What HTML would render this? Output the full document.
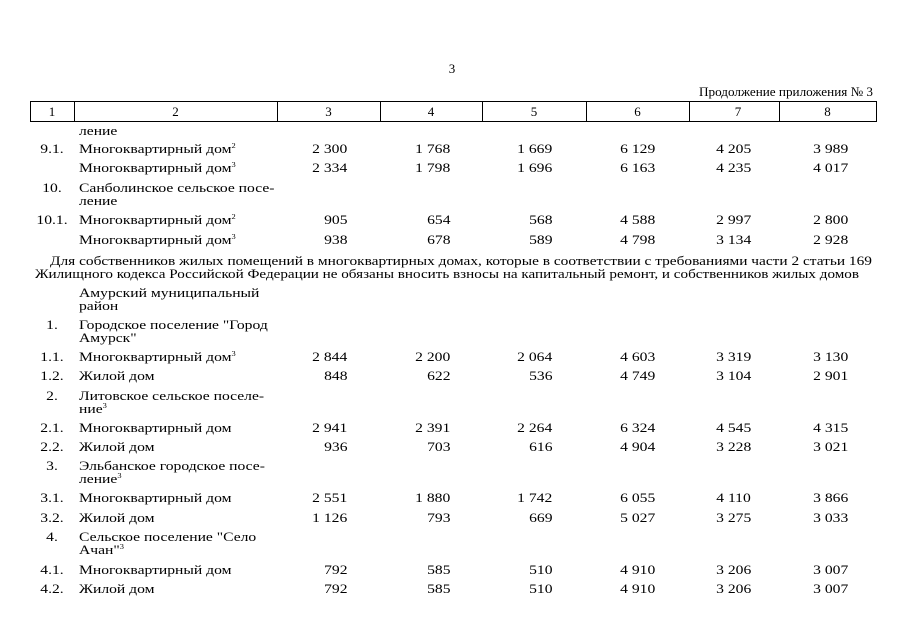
<!DOCTYPE html>
<html>
<head>
<meta charset="utf-8">
<style>
  html, body { margin:0; padding:0; background:#fff; }
  body { width:905px; height:640px; position:relative; overflow:hidden; color:#000;
         font-family:"Liberation Serif","Noto Serif CJK SC",serif; }
  .r { position:absolute; left:0; width:905px; height:13px; }
  .r > span { position:absolute; top:0; font-size:13px; line-height:13px; white-space:nowrap; transform:scaleX(1.2); }
  .n { left:30px; width:44px; text-align:center; transform-origin:center center; }
  .l { left:79px; transform-origin:left center; }
  .c3 { right:558px; transform-origin:right center; }
  .c4 { right:455px; transform-origin:right center; }
  .c5 { right:353px; transform-origin:right center; }
  .c6 { right:250px; transform-origin:right center; }
  .c7 { right:154px; transform-origin:right center; }
  .c8 { right:57px;  transform-origin:right center; }
  .s { font-size:7px; position:relative; top:-5px; }
  .hb { position:absolute; left:30px; top:101px; width:847px; height:21px; box-sizing:border-box; border:1px solid #000; }
  .v { position:absolute; top:101px; width:1px; height:21px; background:#000; }
  .h { position:absolute; top:104.5px; font-size:13px; line-height:13px; text-align:center; }
  .free { position:absolute; font-size:13px; line-height:13px; white-space:nowrap; transform-origin:left center; }
</style>
</head>
<body>

<div class="free" style="left:446px;top:61.5px;width:12px;text-align:center;">3</div>
<div class="free" id="pr" style="left:699px;top:84.5px;">Продолжение приложения № 3</div>

<!-- header -->
<div class="hb"></div>
<div class="v" style="left:74px"></div>
<div class="v" style="left:277px"></div>
<div class="v" style="left:380px"></div>
<div class="v" style="left:482px"></div>
<div class="v" style="left:586px"></div>
<div class="v" style="left:689px"></div>
<div class="v" style="left:779px"></div>
<div class="h" style="left:30px;width:44px">1</div>
<div class="h" style="left:74px;width:203px">2</div>
<div class="h" style="left:277px;width:103px">3</div>
<div class="h" style="left:380px;width:102px">4</div>
<div class="h" style="left:482px;width:104px">5</div>
<div class="h" style="left:586px;width:103px">6</div>
<div class="h" style="left:689px;width:98px">7</div>
<div class="h" style="left:779px;width:97px">8</div>

<div class="r" style="top:123.5px"><span class="l">ление</span></div>

<div class="r" style="top:141.5px"><span class="n">9.1.</span><span class="l">Многоквартирный дом<span class="s">2</span></span>
<span class="c3">2 300</span><span class="c4">1 768</span><span class="c5">1 669</span><span class="c6">6 129</span><span class="c7">4 205</span><span class="c8">3 989</span></div>

<div class="r" style="top:160.5px"><span class="l">Многоквартирный дом<span class="s">3</span></span>
<span class="c3">2 334</span><span class="c4">1 798</span><span class="c5">1 696</span><span class="c6">6 163</span><span class="c7">4 235</span><span class="c8">4 017</span></div>

<div class="r" style="top:180.5px"><span class="n">10.</span><span class="l">Санболинское сельское посе-</span></div>
<div class="r" style="top:193.5px"><span class="l">ление</span></div>

<div class="r" style="top:212.5px"><span class="n">10.1.</span><span class="l">Многоквартирный дом<span class="s">2</span></span>
<span class="c3">905</span><span class="c4">654</span><span class="c5">568</span><span class="c6">4 588</span><span class="c7">2 997</span><span class="c8">2 800</span></div>

<div class="r" style="top:232.5px"><span class="l">Многоквартирный дом<span class="s">3</span></span>
<span class="c3">938</span><span class="c4">678</span><span class="c5">589</span><span class="c6">4 798</span><span class="c7">3 134</span><span class="c8">2 928</span></div>

<div class="free" id="p1" style="left:50px;top:253.5px;transform:scaleX(1.15);">Для собственников жилых помещений в многоквартирных домах, которые в соответствии с требованиями части 2 статьи 169</div>
<div class="free" id="p2" style="left:35px;top:266.5px;transform:scaleX(1.15);">Жилищного кодекса Российской Федерации не обязаны вносить взносы на капитальный ремонт, и собственников жилых домов</div>

<div class="r" style="top:285.5px"><span class="l">Амурский муниципальный</span></div>
<div class="r" style="top:298.5px"><span class="l">район</span></div>

<div class="r" style="top:317.5px"><span class="n">1.</span><span class="l">Городское поселение "Город</span></div>
<div class="r" style="top:330.5px"><span class="l">Амурск"</span></div>

<div class="r" style="top:349.5px"><span class="n">1.1.</span><span class="l">Многоквартирный дом<span class="s">3</span></span>
<span class="c3">2 844</span><span class="c4">2 200</span><span class="c5">2 064</span><span class="c6">4 603</span><span class="c7">3 319</span><span class="c8">3 130</span></div>

<div class="r" style="top:368.5px"><span class="n">1.2.</span><span class="l">Жилой дом</span>
<span class="c3">848</span><span class="c4">622</span><span class="c5">536</span><span class="c6">4 749</span><span class="c7">3 104</span><span class="c8">2 901</span></div>

<div class="r" style="top:388.5px"><span class="n">2.</span><span class="l">Литовское сельское поселе-</span></div>
<div class="r" style="top:401.5px"><span class="l">ние<span class="s">3</span></span></div>

<div class="r" style="top:420.5px"><span class="n">2.1.</span><span class="l">Многоквартирный дом</span>
<span class="c3">2 941</span><span class="c4">2 391</span><span class="c5">2 264</span><span class="c6">6 324</span><span class="c7">4 545</span><span class="c8">4 315</span></div>

<div class="r" style="top:439.5px"><span class="n">2.2.</span><span class="l">Жилой дом</span>
<span class="c3">936</span><span class="c4">703</span><span class="c5">616</span><span class="c6">4 904</span><span class="c7">3 228</span><span class="c8">3 021</span></div>

<div class="r" style="top:458.5px"><span class="n">3.</span><span class="l">Эльбанское городское посе-</span></div>
<div class="r" style="top:471.5px"><span class="l">ление<span class="s">3</span></span></div>

<div class="r" style="top:490.5px"><span class="n">3.1.</span><span class="l">Многоквартирный дом</span>
<span class="c3">2 551</span><span class="c4">1 880</span><span class="c5">1 742</span><span class="c6">6 055</span><span class="c7">4 110</span><span class="c8">3 866</span></div>

<div class="r" style="top:510.5px"><span class="n">3.2.</span><span class="l">Жилой дом</span>
<span class="c3">1 126</span><span class="c4">793</span><span class="c5">669</span><span class="c6">5 027</span><span class="c7">3 275</span><span class="c8">3 033</span></div>

<div class="r" style="top:529.5px"><span class="n">4.</span><span class="l">Сельское поселение "Село</span></div>
<div class="r" style="top:542.5px"><span class="l">Ачан"<span class="s">3</span></span></div>

<div class="r" style="top:562.5px"><span class="n">4.1.</span><span class="l">Многоквартирный дом</span>
<span class="c3">792</span><span class="c4">585</span><span class="c5">510</span><span class="c6">4 910</span><span class="c7">3 206</span><span class="c8">3 007</span></div>

<div class="r" style="top:581.5px"><span class="n">4.2.</span><span class="l">Жилой дом</span>
<span class="c3">792</span><span class="c4">585</span><span class="c5">510</span><span class="c6">4 910</span><span class="c7">3 206</span><span class="c8">3 007</span></div>

<script>
(function(){
  function fit(id, w){
    var e = document.getElementById(id);
    if(!e) return;
    e.style.transform = 'none';
    var nw = e.getBoundingClientRect().width;
    if(nw > 0) e.style.transform = 'scaleX(' + (w/nw) + ')';
  }
  fit('p1', 822);
  fit('p2', 824);
  fit('pr', 174);
})();
</script>
</body>
</html>
